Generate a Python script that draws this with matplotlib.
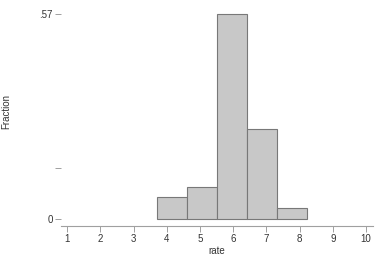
import matplotlib
matplotlib.use("Agg")
import matplotlib.pyplot as plt
import numpy as np

# histogram bins of rate
bin_edges = [3.71, 4.61, 5.52, 6.42, 7.32, 8.23]
fractions = [0.061, 0.089, 0.57, 0.25, 0.031]
x_ticks = [1, 2, 3, 4, 5, 6, 7, 8, 9, 10]
y_ticks = [0, 0.1425, 0.57]
y_tick_labels = ["0", "", ".57"]

plt.rcParams["font.family"] = ["Liberation Sans", "DejaVu Sans"]

fig = plt.figure(figsize=(3.83, 2.56), dpi=100)
ax = fig.add_axes([61 / 383, 30 / 256, 312 / 383, 216 / 256])

edges = np.array(bin_edges)
ax.bar(edges[:-1], fractions, width=np.diff(edges), align="edge",
       color="#c8c8c8", edgecolor="#787878", linewidth=0.8)

ax.set_xlim(0.81, 10.21)
ax.set_ylim(-0.0186, 0.581)

ax.set_xticks(x_ticks)
ax.set_yticks(y_ticks)
ax.set_yticklabels(y_tick_labels)

for side in ("top", "right", "left"):
    ax.spines[side].set_visible(False)
ax.spines["bottom"].set_color("#a0a0a0")
ax.spines["bottom"].set_linewidth(0.8)

ax.tick_params(axis="both", colors="#a0a0a0", labelcolor="#333333",
               labelsize=7, width=0.7, length=4, pad=2)

ax.set_xlabel("rate", fontsize=7, color="#333333", labelpad=1)
ax.set_ylabel("Fraction", fontsize=7, color="#333333")
ax.yaxis.set_label_coords(-0.16, 0.53)

fig.savefig("out.png", dpi=100)
